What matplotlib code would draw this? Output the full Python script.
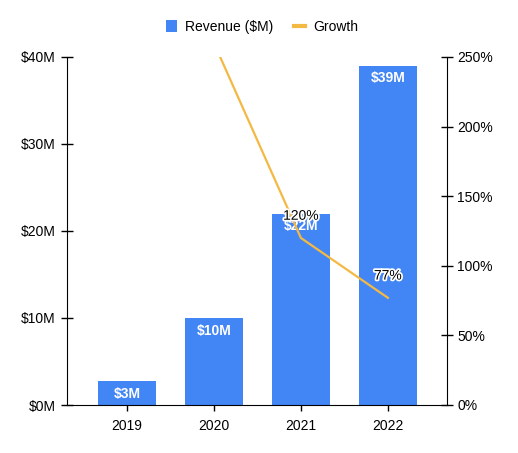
import matplotlib
matplotlib.use("Agg")
import matplotlib.pyplot as plt
import matplotlib.patheffects as pe
from matplotlib.patches import Patch
from matplotlib.lines import Line2D
import numpy as np

plt.rcParams['font.family'] = ['Liberation Sans', 'DejaVu Sans']

years = ["2019", "2020", "2021", "2022"]
revenue = [2.75, 10.0, 22.0, 39.0]          # $M
revenue_labels = ["$3M", "$10M", "$22M", "$39M"]
growth_years = ["2020", "2021", "2022"]
growth = [260, 120, 77]                      # %
growth_labels = ["260%", "120%", "77%"]

bar_color = "#4285F4"
line_color = "#F4B942"

fig = plt.figure(figsize=(5.18, 4.53), dpi=100)
ax = fig.add_axes([67/518, 48/453, 380/518, 348/453])
ax2 = ax.twinx()

x = np.arange(len(years))
ax.bar(x, revenue, width=0.66, color=bar_color, zorder=2)
for xi, v, lab in zip(x, revenue, revenue_labels):
    ax.annotate(lab, (xi, v), xytext=(0, -4), textcoords="offset points",
                ha="center", va="top", color="white", fontsize=10,
                fontweight="bold", zorder=5)

ax.set_xlim(-0.69, 3.68)
ax.set_ylim(0, 40)
ax.set_yticks([0, 10, 20, 30, 40])
ax.set_yticklabels(["$0M", "$10M", "$20M", "$30M", "$40M"])
ax.set_xticks(x)
ax.set_xticklabels(years)

gx = [years.index(g) for g in growth_years]
ax2.plot(gx, growth, color=line_color, lw=1.6, zorder=3)
ax2.set_ylim(0, 250)
ax2.set_yticks([0, 50, 100, 150, 200, 250])
ax2.set_yticklabels(["0%", "50%", "100%", "150%", "200%", "250%"])
for xi, v, lab in zip(gx, growth, growth_labels):
    if v <= 250:
        ax2.annotate(lab, (xi, v), xytext=(0, 16), textcoords="offset points",
                     ha="center", va="center", color="black", fontsize=10,
                     path_effects=[pe.withStroke(linewidth=2.5, foreground="white")])

for a in (ax, ax2):
    a.spines["top"].set_visible(False)
    a.tick_params(direction="inout", length=8, width=1, labelsize=10, colors="black")
ax.spines["right"].set_visible(False)
ax2.spines["left"].set_visible(False)
ax2.spines["bottom"].set_visible(False)
ax.tick_params(axis="y", pad=4)
ax.tick_params(axis="x", pad=6)

handles = [Patch(facecolor=bar_color, edgecolor="none"),
           Line2D([0], [0], color=line_color, lw=3)]
fig.legend(handles, ["Revenue ($M)", "Growth"], loc="center",
           bbox_to_anchor=(262/518, 1 - 27/453), ncol=2, frameon=False,
           fontsize=10, handlelength=0.8, handleheight=0.9, columnspacing=1.5,
           handletextpad=0.6)

fig.savefig("out.png", dpi=100)
